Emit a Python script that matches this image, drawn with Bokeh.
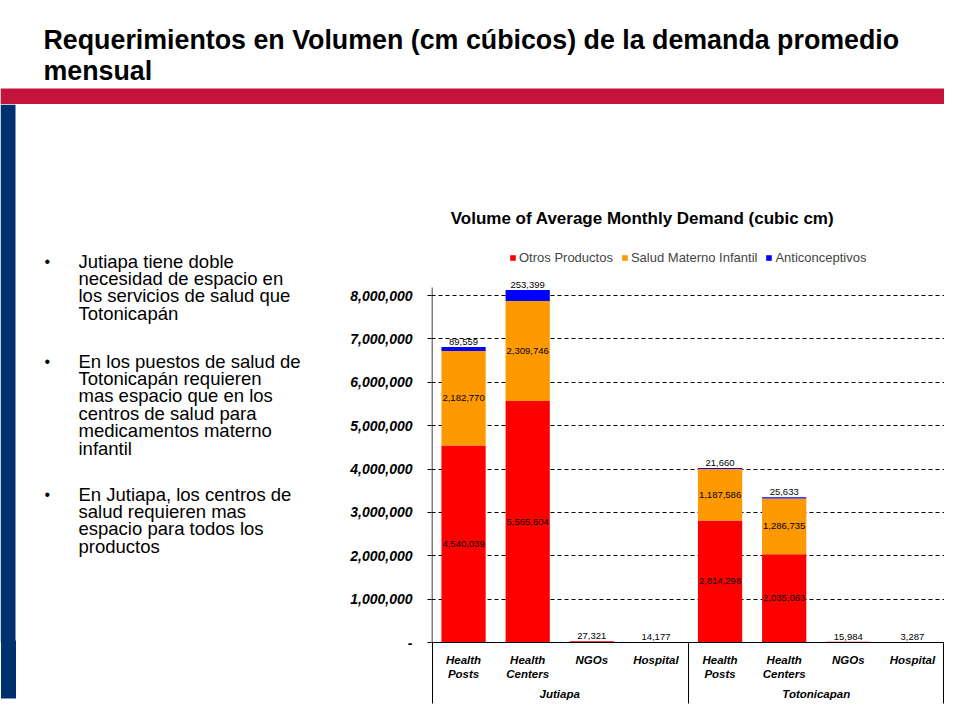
from bokeh.plotting import figure
from bokeh.layouts import column, row
from bokeh.models import (ColumnDataSource, FactorRange, Range1d, Label, LabelSet, LinearAxis,
                          CategoricalAxis, Legend, LegendItem, FixedTicker, NumeralTickFormatter)
from bokeh.core.properties import value
from bokeh.embed import file_html
from bokeh.resources import INLINE

# ---------------- data ----------------
groups = ["Jutiapa", "Totonicapan"]
facilities = ["Health\nPosts", "Health\nCenters", "NGOs", "Hospital"]
series = ["Otros Productos", "Salud Materno Infantil", "Anticonceptivos"]
otros = [4540039, 5565604, 27321, 14177, 2814298, 2035063, 15984, 3287]
salud = [2182770, 2309746, 0, 0, 1187586, 1286735, 0, 0]
anti = [89559, 253399, 0, 0, 21660, 25633, 0, 0]
y_ticks = [0, 1000000, 2000000, 3000000, 4000000, 5000000, 6000000, 7000000, 8000000]
colors = ["#FF0000", "#FF9900", "#0000FF"]

slide_title = ["Requerimientos en Volumen (cm cúbicos) de la demanda promedio", "mensual"]
chart_title = "Volume of Average Monthly Demand (cubic cm)"
bullets = [
    ["Jutiapa tiene doble", "necesidad de espacio en", "los servicios de salud  que", "Totonicapán"],
    ["En los puestos de salud de", "Totonicapán requieren", "mas espacio que en los",
     "centros de salud para", "medicamentos materno", "infantil"],
    ["En Jutiapa, los centros de", "salud requieren mas", "espacio para todos los", "productos"],
]

FONT = "Liberation Sans"
W, H = 944, 704
TOP_H = 104          # title area height
LEFT_W = 330         # bullets area width
B_BOTTOM = 62        # space under the chart's plot area (category labels)
ZERO_Y = 642         # page y of the chart's zero line
NAVY = "#00306E"


def blank(width, height, x0, x1, y0, y1, **kw):
    f = figure(width=width, height=height, output_backend="svg", toolbar_location=None,
               x_range=Range1d(x0, x1), y_range=Range1d(y0, y1),
               x_axis_location=None, y_axis_location=None, **kw)
    f.grid.visible = False
    f.outline_line_color = None
    f.background_fill_color = "white"
    f.border_fill_color = "white"
    return f


def label(f, x, y, text, size, style="normal", align="left", baseline="middle", units="data"):
    f.add_layout(Label(x=x, y=y, x_units=units, y_units=units, text=text,
                       text_font=FONT, text_font_size=size, text_font_style=style,
                       text_align=align, text_baseline=baseline, text_color="black"))


def tick_only(axis, length, width, color):
    # an axis with no line and no labels: only its ticks are drawn, outward
    axis.major_tick_out = 0
    axis.major_tick_in = -length
    axis.major_tick_line_width = width
    axis.major_tick_line_color = color
    axis.axis_line_color = None
    axis.major_label_text_font_size = "0px"
    axis.major_label_standoff = 0
    return axis


# ---------- top: slide title + red band ----------
top = blank(W, TOP_H, 0, W, TOP_H, 0, min_border=0)
top.quad(left=[0], right=[W], top=[88], bottom=[TOP_H], color="#C4143C", line_color=None)
for i, line in enumerate(slide_title):
    label(top, 43, 39 + 31 * i, line, "26.8px", "bold")

# ---------- left: blue bar + bullets ----------
left = blank(LEFT_W, H - TOP_H, 0, LEFT_W, ZERO_Y, TOP_H,
             min_border_left=0, min_border_right=0, min_border_top=0, min_border_bottom=B_BOTTOM)
left.quad(left=[0], right=[15], top=[TOP_H], bottom=[ZERO_Y], color=NAVY, line_color=None)
# the part of the blue bar below the plot area, drawn as one wide tick
tail = tick_only(LinearAxis(ticker=FixedTicker(ticks=[7.5]), minor_tick_line_color=None,
                            major_label_overrides={7.5: " "}), 56, 15, NAVY)
tail.major_tick_out = -2
left.add_layout(tail, "below")
starts = [260.5, 360.5, 493.5]
for start, lines in zip(starts, bullets):
    label(left, 44, start, "•", "16px")
    for j, line in enumerate(lines):
        label(left, 78, start + 17.4 * j, line, "18.5px")

# ---------- chart ----------
factors = [(g, f) for g in groups for f in facilities]
src = ColumnDataSource(dict(x=factors, otros=otros, salud=salud, anti=anti))

CH_W = W - LEFT_W
CH_H = H - TOP_H
frame_h = CH_H - B_BOTTOM
px_per_unit = (ZERO_Y - 295) / 8000000  # 8,000,000 at page y 295
y_end = frame_h / px_per_unit
axis_top = (ZERO_Y - 287) / px_per_unit

p = figure(width=CH_W, height=CH_H, output_backend="svg", toolbar_location=None,
           x_range=FactorRange(*factors, group_padding=0, factor_padding=0, range_padding=0),
           y_range=Range1d(0, y_end),
           min_border_left=101, min_border_right=0, min_border_top=0, min_border_bottom=B_BOTTOM)
p.outline_line_color = None
p.background_fill_color = "white"
p.border_fill_color = "white"

rs = p.vbar_stack(["otros", "salud", "anti"], x="x", width=0.69, source=src,
                  color=colors, line_color=None)

# y axis (its line is drawn only up to the plot area top)
yax = p.yaxis[0]
yax.ticker = FixedTicker(ticks=y_ticks)
yax.formatter = NumeralTickFormatter(format="0,0")
yax.major_label_overrides = {0: "-"}
yax.major_label_text_font = FONT
yax.major_label_text_font_style = "bold italic"
yax.major_label_text_font_size = "14px"
yax.major_label_text_color = "black"
yax.major_tick_out = 4
yax.major_tick_in = 0
yax.minor_tick_line_color = None
yax.major_label_standoff = 15
yax.axis_line_color = None
yax.major_tick_line_color = "black"
first = factors[0]
p.segment(x0=[(first[0], first[1], -0.492)], x1=[(first[0], first[1], -0.492)],
          y0=[0], y1=[axis_top], line_color="black", line_width=1)

xax = p.xaxis[0]
xax.major_label_text_font = FONT
xax.major_label_text_font_style = "bold italic"
xax.major_label_text_font_size = "11.5px"
xax.major_label_text_color = "black"
xax.group_text_font = FONT
xax.group_text_font_style = "bold italic"
xax.group_text_font_size = "11.5px"
xax.group_text_color = "black"
xax.major_tick_line_color = None
xax.axis_line_color = "black"
xax.separator_line_color = None
xax.major_label_standoff = 5

# category boundary lines under the axis (left edge, between groups, right edge):
# three blank factors whose centres fall just inside the plot's left edge, the middle
# and just inside the right edge
p.extra_x_ranges = {"edges": FactorRange(" ", "  ", "   ", factor_padding=len(facilities) - 1,
                                         range_padding=-0.49, range_padding_units="absolute")}
edges = tick_only(CategoricalAxis(x_range_name="edges"), 61, 1, "black")
p.below = [edges] + list(p.below)

p.xgrid.visible = False
p.ygrid.ticker = FixedTicker(ticks=y_ticks)
p.ygrid.grid_line_color = "black"
p.ygrid.grid_line_dash = "4 3"
p.ygrid.grid_line_width = 1

# data labels
cx, cy, ct = [], [], []
tx, ty, tt = [], [], []
for f, o, s, a in zip(factors, otros, salud, anti):
    if s > 0:
        cx += [f, f]
        cy += [o / 2, o + s / 2]
        ct += [f"{o:,}", f"{s:,}"]
        tx.append(f); ty.append(o + s + a); tt.append(f"{a:,}")
    else:
        tx.append(f); ty.append(o + s + a); tt.append(f"{o:,}")
p.add_layout(LabelSet(x="x", y="y", text="t", source=ColumnDataSource(dict(x=cx, y=cy, t=ct)),
                      text_align="center", text_baseline="middle", text_font=value(FONT),
                      text_font_size=value("9.5px"), text_color="black"))
p.add_layout(LabelSet(x="x", y="y", text="t", source=ColumnDataSource(dict(x=tx, y=ty, t=tt)),
                      text_align="center", text_baseline="bottom", text_font=value(FONT),
                      text_font_size=value("9.5px"), text_color="black", y_offset=2))

# chart title and legend (inside the plot area, above the bars)
label(p, 642 - 431, ZERO_Y - 218, chart_title, "17px", "bold", "center", "middle", units="screen")
legend = Legend(items=[LegendItem(label=s, renderers=[r]) for s, r in zip(series, rs)],
                orientation="horizontal", location=(509 - 431, ZERO_Y - 264.5),
                border_line_color=None, background_fill_alpha=0,
                label_text_font=FONT, label_text_font_size="13px",
                glyph_width=7, glyph_height=7, label_standoff=3, spacing=8,
                padding=0, margin=0, label_height=13)
p.add_layout(legend)

layout = column(top, row(left, p, spacing=0), spacing=0)
open("out.html", "w").write(file_html(layout, INLINE))
